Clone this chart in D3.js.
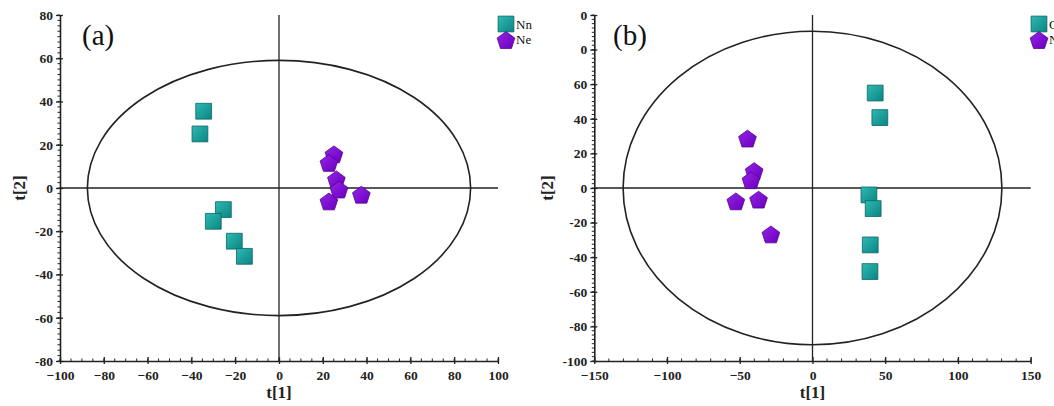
<!DOCTYPE html>
<html>
<head>
<meta charset="utf-8">
<script src="https://cdn.jsdelivr.net/npm/d3@7"></script>
<style>
html,body{margin:0;padding:0;background:#fff;}
svg{display:block;}
</style>
</head>
<body>
<svg id="chart" width="1054" height="406"></svg>
<script>
// ---------- DATA ----------
const panelALabel = "(a)";
const panelBLabel = "(b)";
const legendA = ["Nn", "Ne"];
const legendB = ["Cn", "Ne"];

const aSquaresX = [-34.4, -36.1, -25.4, -30.0, -20.4, -15.8];
const aSquaresY = [35.5, 25.0, -10.0, -15.4, -24.6, -31.6];
const aPentX = [25.1, 22.8, 26.2, 27.4, 22.8, 37.6];
const aPentY = [15.6, 11.6, 4.0, -0.7, -6.2, -3.1];

const bSquaresX = [43.1, 46.3, 38.8, 41.7, 39.7, 39.5];
const bSquaresY = [54.9, 40.7, -4.0, -11.9, -32.9, -48.3];
const bPentX = [-44.7, -40.1, -42.3, -52.7, -37.1, -28.6];
const bPentY = [28.6, 9.8, 4.5, -7.7, -6.7, -26.8];

const aXTicks = [-100, -80, -60, -40, -20, 0, 20, 40, 60, 80, 100];
const aYTicks = [80, 60, 40, 20, 0, -20, -40, -60, -80];
const aYTickLabels = ["80", "60", "40", "20", "0", "-20", "-40", "-60", "-80"];
const bXTicks = [-150, -100, -50, 0, 50, 100, 150];
const bYTicks = [100, 80, 60, 40, 20, 0, -20, -40, -60, -80, -100];
const bYTickLabels = ["0", "0", "60", "40", "20", "0", "-20", "-40", "-60", "-80", "-100"];

const aEllipse = [87.5, 59];   // radii in data units
const bEllipse = [130.2, 90.6];

const xTitle = "t[1]";
const yTitle = "t[2]";

// ---------- DRAW ----------
const svg = d3.select("#chart");
const defs = svg.append("defs");
const gSq = defs.append("linearGradient").attr("id", "gsq").attr("x1", "0").attr("y1", "0").attr("x2", "1").attr("y2", "1");
gSq.append("stop").attr("offset", "0").attr("stop-color", "#2fb9b4");
gSq.append("stop").attr("offset", "1").attr("stop-color", "#0b8582");
const gPe = defs.append("linearGradient").attr("id", "gpe").attr("x1", "0").attr("y1", "0").attr("x2", "1").attr("y2", "1");
gPe.append("stop").attr("offset", "0").attr("stop-color", "#9224e8");
gPe.append("stop").attr("offset", "1").attr("stop-color", "#6c00bd");

const pentagon = {
  draw(ctx, size) {
    const r = Math.sqrt(size) * 0.6;
    for (let i = 0; i < 5; i++) {
      const a = -Math.PI / 2 + i * 2 * Math.PI / 5;
      const x = r * Math.cos(a), y = r * Math.sin(a) + r * 0.1;
      if (i === 0) ctx.moveTo(x, y); else ctx.lineTo(x, y);
    }
    ctx.closePath();
  }
};
const sqPath = d3.symbol().type(d3.symbolSquare).size(250)();
const pePath = d3.symbol().type(pentagon).size(240)();

const serif = "'Liberation Serif','Times New Roman',serif";

function panel(cfg) {
  const x = d3.scaleLinear().domain(cfg.xDomain).range(cfg.xRange);
  const y = d3.scaleLinear().domain(cfg.yDomain).range(cfg.yRange);
  const g = svg.append("g");

  // minor ticks
  const xMinor = d3.range(cfg.xDomain[0], cfg.xDomain[1] + 0.001, cfg.xMinor);
  const yMinor = d3.range(cfg.yDomain[0], cfg.yDomain[1] + 0.001, cfg.yMinor);
  g.selectAll(".xm").data(xMinor).join("line")
    .attr("x1", d => x(d)).attr("x2", d => x(d))
    .attr("y1", y.range()[0]).attr("y2", y.range()[0] - 2.5)
    .attr("stroke", "#222").attr("stroke-width", 1);
  g.selectAll(".ym").data(yMinor).join("line")
    .attr("y1", d => y(d)).attr("y2", d => y(d))
    .attr("x1", x.range()[0]).attr("x2", x.range()[0] - 2.5)
    .attr("stroke", "#222").attr("stroke-width", 1);

  // axes
  const xAxis = d3.axisBottom(x).tickValues(cfg.xTicks).tickSize(0).tickPadding(8).tickFormat(d3.format("d"));
  const gx = g.append("g").attr("transform", `translate(0,${y.range()[0]})`).call(xAxis);
  gx.selectAll(".tick").append("line").attr("y1", -4).attr("y2", 3).attr("stroke", "#222").attr("stroke-width", 1.3);
  const yAxis = d3.axisLeft(y).tickValues(cfg.yTicks).tickSize(0).tickPadding(7)
    .tickFormat((d, i) => cfg.yTickLabels[i]);
  const gy = g.append("g").attr("transform", `translate(${x.range()[0]},0)`).call(yAxis);
  gy.selectAll(".tick").append("line").attr("x1", -4).attr("x2", 3).attr("stroke", "#222").attr("stroke-width", 1.3);
  [gx, gy].forEach(a => {
    a.attr("font-family", serif);
    a.select(".domain").attr("stroke", "#222").attr("stroke-width", 1.6);
    a.selectAll("text").attr("font-family", serif).attr("font-weight", "bold")
      .attr("font-size", 13.5).attr("fill", "#222");
  });
  gx.selectAll("text").attr("dy", "0.85em");

  // zero lines
  g.append("line").attr("x1", x.range()[0]).attr("x2", x.range()[1])
    .attr("y1", y(0)).attr("y2", y(0)).attr("stroke", "#222").attr("stroke-width", 1.3);
  g.append("line").attr("x1", x(0)).attr("x2", x(0))
    .attr("y1", y.range()[1]).attr("y2", y.range()[0]).attr("stroke", "#222").attr("stroke-width", 1.3);

  // ellipse
  g.append("ellipse").attr("cx", x(0)).attr("cy", y(0))
    .attr("rx", x(cfg.ellipse[0]) - x(0)).attr("ry", y(0) - y(cfg.ellipse[1]))
    .attr("fill", "none").attr("stroke", "#222").attr("stroke-width", 1.6);

  // points
  const sq = cfg.sqX.map((v, i) => [v, cfg.sqY[i]]);
  const pe = cfg.peX.map((v, i) => [v, cfg.peY[i]]);
  g.selectAll(".sq").data(sq).join("path")
    .attr("d", sqPath).attr("transform", d => `translate(${x(d[0])},${y(d[1])})`)
    .attr("fill", "url(#gsq)").attr("stroke", "#0a6663").attr("stroke-width", 0.8);
  g.selectAll(".pe").data(pe).join("path")
    .attr("d", pePath).attr("transform", d => `translate(${x(d[0])},${y(d[1])})`)
    .attr("fill", "url(#gpe)").attr("stroke", "#55008f").attr("stroke-width", 0.8);

  // titles
  g.append("text").attr("x", (x.range()[0] + x.range()[1]) / 2).attr("y", 398)
    .attr("text-anchor", "middle").attr("font-family", serif).attr("font-weight", "bold")
    .attr("font-size", 17).attr("fill", "#222").text(xTitle);
  g.append("text").attr("transform", `translate(${cfg.yTitleX},${y(0)}) rotate(-90)`)
    .attr("text-anchor", "middle").attr("font-family", serif).attr("font-weight", "bold")
    .attr("font-size", 17).attr("fill", "#222").text(yTitle);
  g.append("text").attr("x", cfg.labelX).attr("y", 45)
    .attr("font-family", serif).attr("font-size", 29).attr("fill", "#111").text(cfg.label);

  // legend
  const lg = g.append("g").attr("transform", `translate(${cfg.legendX},0)`);
  lg.append("path").attr("d", sqPath).attr("transform", "translate(7,24)")
    .attr("fill", "url(#gsq)").attr("stroke", "#0a6663").attr("stroke-width", 0.8);
  lg.append("path").attr("d", pePath).attr("transform", "translate(7,40)")
    .attr("fill", "url(#gpe)").attr("stroke", "#55008f").attr("stroke-width", 0.8);
  cfg.legend.forEach((t, i) => {
    lg.append("text").attr("x", 17).attr("y", 29 + i * 15)
      .attr("font-family", serif).attr("font-size", 13).attr("fill", "#111").text(t);
  });
}

panel({
  xDomain: [-100, 100], xRange: [60, 498], yDomain: [-80, 80], yRange: [361, 15],
  xTicks: aXTicks, yTicks: aYTicks, yTickLabels: aYTickLabels, xMinor: 5, yMinor: 2.5,
  ellipse: aEllipse, sqX: aSquaresX, sqY: aSquaresY, peX: aPentX, peY: aPentY,
  yTitleX: 25, label: panelALabel, labelX: 82, legendX: 499, legend: legendA
});
panel({
  xDomain: [-150, 150], xRange: [594.3, 1030.7], yDomain: [-100, 100], yRange: [361, 15],
  xTicks: bXTicks, yTicks: bYTicks, yTickLabels: bYTickLabels, xMinor: 10, yMinor: 2.5,
  ellipse: bEllipse, sqX: bSquaresX, sqY: bSquaresY, peX: bPentX, peY: bPentY,
  yTitleX: 553, label: panelBLabel, labelX: 613, legendX: 1032, legend: legendB
});
</script>
</body>
</html>
